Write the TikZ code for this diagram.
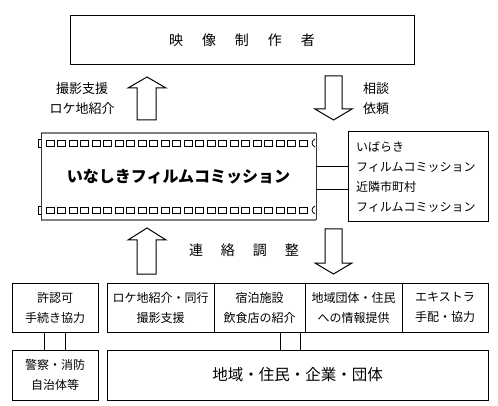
\documentclass[tikz,border=0pt]{standalone}
\usepackage{fontspec}
\setmainfont{Noto Sans CJK JP}
\usepackage{tikz}
\usetikzlibrary{shapes,arrows}
\definecolor{filmGray}{RGB}{128,128,128}

\begin{document}
\begin{tikzpicture}[x=1pt, y=-1pt, line width=1pt]%
  \tikzset{box/.style={draw, minimum height=49pt}}
  \tikzset{block arrow/.style={draw, fill=white, line join=miter}}
  \tikzstyle{every node}=[inner sep=0pt, outer sep=0pt, align=center, font=\fontsize{12}{20}\selectfont]

  \useasboundingbox (0,0) rectangle (498,406);

  \node[box, minimum width=344pt, font=\fontsize{14}{16}\selectfont] at (242,40.5) (maker) {映\hspace{19pt}像\hspace{19pt}制\hspace{19pt}作\hspace{19pt}者};
  \node[font=\fontsize{13}{20}\selectfont] at (82,99) (supportlbl) {撮影支援\\ロケ地紹介};
  \node[font=\fontsize{13}{20}\selectfont] at (376,99) (requestlbl) {相談\\依頼};

  % film strip
  \node[minimum width=275pt, minimum height=87pt, font=\bfseries\fontsize{16}{18}\selectfont] at (178.5,176.5) (film) {いなしきフィルムコミッション};
  \draw[filmGray, line width=2pt] (film.north west) -- (film.north east);
  \draw[filmGray, line width=2pt] (film.south west) -- (film.south east);
  \draw[black!80] (film.north west) -- (film.south west);
  \draw[black!80] (film.north east) -- (film.south east);
  \foreach \i in {0,...,22} {
    \draw[line width=0.8pt] (46+\i*11.5,140) rectangle ++(8,6);
    \draw[line width=0.8pt] (46+\i*11.5,207) rectangle ++(8,6);
  }
  \draw[line width=0.8pt] (41,139) -- (38.5,139) -- (38.5,147) -- (41,147);
  \draw[line width=0.8pt] (41,206) -- (38.5,206) -- (38.5,214) -- (41,214);
  \draw[line width=0.8pt] (315,139) .. controls (311,141) and (311,145) .. (315,147);
  \draw[line width=0.8pt] (315,206) .. controls (311,208) and (311,212) .. (315,214);

  \node[draw, minimum width=140pt, minimum height=90pt, text width=124pt, align=left] at (418,177) (fc) {いばらき\\フィルムコミッション\\近隣市町村\\フィルムコミッション};
  \draw ([yshift=9.5pt]film.east) -- ([yshift=9.5pt]film.east -| fc.west);
  \draw ([yshift=-13.5pt]film.east) -- ([yshift=-13.5pt]film.east -| fc.west);

  % block arrows
  \path[block arrow] (147,77) -- (166,88) -- (156,88) -- (156,120) -- (137,120) -- (137,88) -- (128,88) -- cycle;
  \path[block arrow] (325,76) -- (342,76) -- (342,109) -- (352,109) -- (333.5,120) -- (315,109) -- (325,109) -- cycle;
  \path[block arrow] (147,228) -- (166,240) -- (156,240) -- (156,274) -- (137,274) -- (137,240) -- (128,240) -- cycle;
  \path[block arrow] (325,229) -- (342,229) -- (342,263) -- (352,263) -- (333.5,274) -- (315,263) -- (325,263) -- cycle;
  \node[font=\fontsize{14}{16}\selectfont] at (244,250) (liaison) {連\hspace{18pt}絡\hspace{18pt}調\hspace{18pt}整};

  % partners
  \node[box, minimum width=86pt] at (55,307.5) (permit) {許認可\\手続き協力};
  \node[box, minimum width=107pt] at (160.5,307.5) (scout) {ロケ地紹介・同行\\撮影支援};
  \node[box, minimum width=91pt] at (259.5,307.5) (lodging) {宿泊施設\\飲食店の紹介};
  \node[box, minimum width=97pt] at (353.5,307.5) (localinfo) {地域団体・住民\\への情報提供};
  \node[box, minimum width=86pt] at (445,307.5) (extras) {エキストラ\\手配・協力};
  \node[box, minimum width=86pt, minimum height=50pt] at (55,375) (police) {警察・消防\\自治体等};
  \node[box, minimum width=381pt, minimum height=50pt, font=\fontsize{15.5}{18}\selectfont] at (297.5,375) (region) {地域・住民・企業・団体};

  \draw ([xshift=-11pt]permit.south) -- ([xshift=-11pt]police.north);
  \draw ([xshift=10pt]permit.south) -- ([xshift=10pt]police.north);
  \draw ([xshift=-17.5pt]region.north) -- ([xshift=-17.5pt]region.north |- lodging.south);
  \draw ([xshift=2.5pt]region.north) -- ([xshift=2.5pt]region.north |- lodging.south);
\end{tikzpicture}
\end{document}
